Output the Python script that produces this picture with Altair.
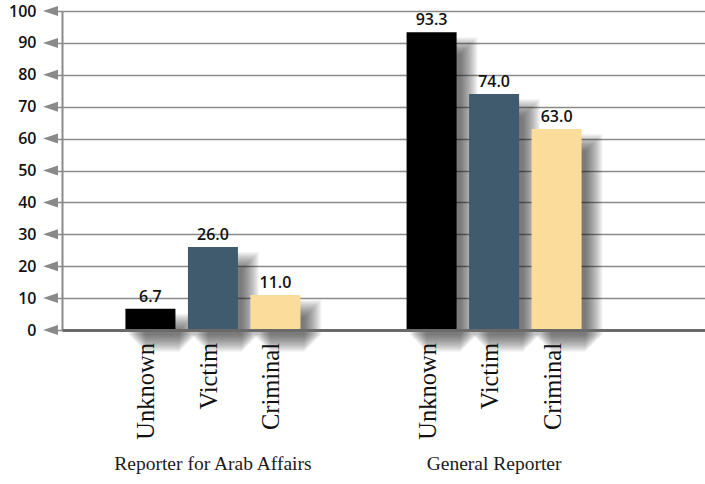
import altair as alt
import pandas as pd

groups = ["Reporter for Arab Affairs", "General Reporter"]
series = ["Unknown", "Victim", "Criminal"]
arab_values = [6.7, 26.0, 11.0]
general_values = [93.3, 74.0, 63.0]
y_ticks = [0, 10, 20, 30, 40, 50, 60, 70, 80, 90, 100]
colors = ["#000000", "#3f5b6d", "#fcdc9b"]

rows = []
for g, vals in zip(groups, [arab_values, general_values]):
    for s, v in zip(series, vals):
        rows.append({"group": g, "series": s, "value": v})
df = pd.DataFrame(rows)
ticks_df = pd.DataFrame({"value": y_ticks})

W, H = 643, 319
PI, PO, AL = 0.333, 0.31, 0.328
step = W / (2 - PI + 2 * PO)
bw = step * (1 - PI)
SH_X, SH_Y = 12, 14

x_enc = alt.X(
    "group:N", sort=groups,
    scale=alt.Scale(paddingInner=PI, paddingOuter=PO, align=AL),
    axis=alt.Axis(title=None, labelAngle=0, ticks=False, domain=True,
                  domainColor="#6a6a6a", domainWidth=3, grid=False,
                  labelFont="Liberation Serif", labelFontSize=19.5,
                  labelColor="#1a1a1a", labelPadding=124, labelLimit=0, zindex=1),
)
y_enc = alt.Y(
    "value:Q",
    scale=alt.Scale(domain=[0, 100], nice=False),
    axis=alt.Axis(values=y_ticks, title=None, grid=True, gridColor="#8a8a8a",
                  gridWidth=1.5, domainColor="#8a8a8a", domainWidth=2,
                  tickColor="#8a8a8a", tickSize=8, tickWidth=1.5,
                  labelFont="Open Sans", labelFontSize=16, labelFontWeight=600,
                  labelColor="#111111", labelPadding=18),
)

base = alt.Chart(df)

shadow_layers = []
for e in range(-8, 10):
    shadow_layers.append(
        base.mark_bar(color="#222222", opacity=0.045, width=50 + 2 * e,
                      yOffset=SH_Y - e, y2Offset=SH_Y + e).encode(
            x=x_enc,
            xOffset=alt.XOffset("series:N", sort=series,
                                scale=alt.Scale(range=[SH_X, SH_X + bw],
                                                paddingInner=0.2, paddingOuter=0.1)),
            y=y_enc,
        )
    )
shadows = alt.layer(*shadow_layers)

xoff = alt.XOffset("series:N", sort=series,
                   scale=alt.Scale(paddingInner=0.2, paddingOuter=0.1))

arrows = alt.Chart(ticks_df).mark_point(
    shape="M -1 0 L 1 -0.667 L 1 0.667 Z", size=225, filled=True,
    color="#8a8a8a", opacity=1,
).encode(y=y_enc, x=alt.value(-11.5))

bars = base.mark_bar().encode(
    x=x_enc, xOffset=xoff, y=y_enc,
    color=alt.Color("series:N", scale=alt.Scale(domain=series, range=colors), legend=None),
)
values = base.mark_text(dy=-7, baseline="alphabetic", font="Open Sans",
                        fontSize=16, fontWeight=600, color="#111111").encode(
    x=x_enc, xOffset=xoff, y=y_enc, text=alt.Text("value:Q", format=".1f"),
)
cats = base.mark_text(angle=270, align="right", baseline="middle",
                      font="Liberation Serif", fontSize=24.5, dy=-3,
                      color="#111111").encode(
    x=x_enc, xOffset=xoff, y=alt.value(H + 13), text="series:N",
)

front = alt.layer(arrows, bars, values, cats)

chart = alt.layer(shadows, front).resolve_scale(xOffset="independent").properties(
    width=W, height=H, autosize="none",
    padding={"left": 62, "top": 11, "right": 0, "bottom": 154},
    background="white",
).configure_view(stroke=None)

chart.save("out.html", embed_options={"renderer": "svg", "actions": False})
